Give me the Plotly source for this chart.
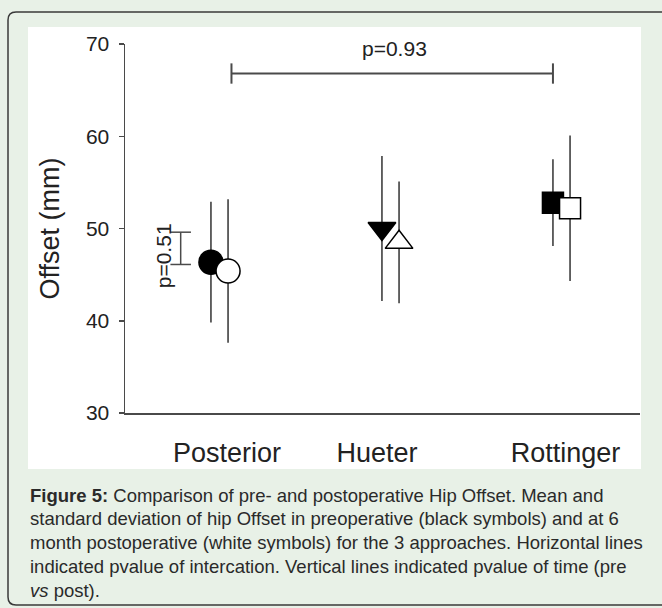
import plotly.graph_objects as go

# ---- data ----
approaches = ["Posterior", "Hueter", "Rottinger"]
pre_mean = [46.35, 50.0, 52.8]
pre_sd = [6.55, 7.86, 4.7]
post_mean = [45.4, 48.5, 52.2]
post_sd = [7.78, 6.6, 7.88]
y_ticks = [30, 40, 50, 60, 70]
p_interaction = "p=0.93"
p_interaction_y = 66.8
p_time = "p=0.51"
p_time_range = [46.1, 49.6]

caption_lines = [
    "<b>Figure 5:</b> Comparison of pre- and postoperative Hip Offset. Mean and",
    "standard deviation of hip Offset in preoperative (black symbols) and at 6",
    "month postoperative (white symbols) for the 3 approaches. Horizontal lines",
    "indicated pvalue of intercation. Vertical lines indicated pvalue of time (pre",
    "<i>vs</i> post).",
]

# ---- layout geometry (pixels) ----
W, H = 662, 608
L, R, T, B = 125, 22, 44, 195
PW, PH = W - L - R, H - T - B


def px_x(px):
    return (px - L) / PW


def px_y(py):
    return (H - B - py) / PH


FONT = "Liberation Sans, Arial, sans-serif"
INK = "#222222"
LINE = "#4a4a4a"
GREEN = "#e8f1e7"

xc = [1, 2, 3]
off = 0.05
x_pre = [v - off for v in xc]
x_post = [v + off for v in xc]

fig = go.Figure()

pre_symbols = ["circle", "triangle-down", "square"]
post_symbols = ["circle", "triangle-up", "square"]
sizes = [24, 24, 21]

for i in range(3):
    fig.add_trace(go.Scatter(
        x=[x_pre[i]], y=[pre_mean[i]], mode="markers",
        marker=dict(symbol=pre_symbols[i], size=sizes[i], color="black",
                    line=dict(color="black", width=1.5)),
        error_y=dict(type="data", array=[pre_sd[i]], symmetric=True,
                     width=0, thickness=1.5, color="#333333"),
        showlegend=False, hoverinfo="skip"))
for i in range(3):
    fig.add_trace(go.Scatter(
        x=[x_post[i]], y=[post_mean[i]], mode="markers",
        marker=dict(symbol=post_symbols[i], size=sizes[i], color="white",
                    line=dict(color="black", width=1.5)),
        error_y=dict(type="data", array=[post_sd[i]], symmetric=True,
                     width=0, thickness=1.5, color="#333333"),
        showlegend=False, hoverinfo="skip"))

# interaction bracket (horizontal)
bx0, bx1 = 1.07, 2.95
fig.add_trace(go.Scatter(
    x=[bx0, bx1], y=[p_interaction_y, p_interaction_y], mode="lines",
    line=dict(color=LINE, width=2), showlegend=False, hoverinfo="skip"))
for bx in (bx0, bx1):
    fig.add_trace(go.Scatter(
        x=[bx, bx], y=[p_interaction_y - 1.1, p_interaction_y + 1.1], mode="lines",
        line=dict(color=LINE, width=2), showlegend=False, hoverinfo="skip"))

# time bracket (vertical)
tx = 0.773
fig.add_trace(go.Scatter(
    x=[tx, tx], y=p_time_range, mode="lines",
    line=dict(color=LINE, width=1.5), showlegend=False, hoverinfo="skip"))
for ty in p_time_range:
    fig.add_trace(go.Scatter(
        x=[tx - 0.06, tx + 0.06], y=[ty, ty], mode="lines",
        line=dict(color=LINE, width=1.5), showlegend=False, hoverinfo="skip"))

annotations = [
    dict(x=2.026, y=69.5, xref="x", yref="y", text=p_interaction, showarrow=False,
         font=dict(family=FONT, size=21, color=INK), xanchor="center", yanchor="middle"),
    dict(x=0.67, y=47.0, xref="x", yref="y", text=p_time, showarrow=False, textangle=-90,
         font=dict(family=FONT, size=21, color=INK), xanchor="center", yanchor="middle"),
    dict(x=px_x(49), y=0.5, xref="paper", yref="paper", text="Offset (mm)",
         showarrow=False, textangle=-90,
         font=dict(family=FONT, size=27, color=INK), xanchor="center", yanchor="middle"),
]

baselines = [502, 525, 549, 573, 597]
for line, bl in zip(caption_lines, baselines):
    annotations.append(dict(
        x=px_x(28), y=px_y(bl - 6.5), xref="paper", yref="paper", text=line,
        showarrow=False, xanchor="left", yanchor="middle", align="left",
        font=dict(family=FONT, size=18.5, color="#2a2a2a")))

# background panels
r = 8
x0o, x1o = px_x(8), px_x(700)
yt, yb = px_y(12), px_y(605)
rx, ry = r / PW, r / PH
border_path = (f"M {x1o},{yt} L {x0o + rx},{yt} Q {x0o},{yt} {x0o},{yt - ry} "
               f"L {x0o},{yb + ry} Q {x0o},{yb} {x0o + rx},{yb} L {x1o},{yb}")

shapes = [
    dict(type="rect", xref="paper", yref="paper",
         x0=px_x(28), x1=px_x(641), y0=px_y(469), y1=px_y(27),
         fillcolor="white", line=dict(width=0), layer="below"),
    dict(type="path", xref="paper", yref="paper", path=border_path,
         line=dict(color="#3a3a3a", width=1.5), layer="below"),
]

x_lo = 1 - (219.5 - L) / 171
x_hi = 1 + (L + PW - 219.5) / 171

fig.update_layout(
    width=W, height=H,
    margin=dict(l=L, r=R, t=T, b=B, pad=0),
    paper_bgcolor=GREEN, plot_bgcolor="rgba(0,0,0,0)",
    shapes=shapes, annotations=annotations,
    xaxis=dict(range=[x_lo, x_hi], tickvals=[1.044, 1.921, 3.023], ticktext=approaches,
               showgrid=False, zeroline=False, showline=True, linecolor=LINE, linewidth=2,
               ticks="", ticklabelstandoff=15,
               tickfont=dict(family=FONT, size=27, color=INK)),
    yaxis=dict(range=[30, 70], tickvals=y_ticks, showgrid=False, zeroline=False,
               showline=True, linecolor=LINE, linewidth=1.5,
               ticks="outside", ticklen=5, tickwidth=1.5, tickcolor=LINE,
               ticklabelstandoff=5,
               tickfont=dict(family=FONT, size=21, color=INK)),
)

fig.write_html("out.html", config={"displayModeBar": False, "staticPlot": True},
               post_script="document.body.style.margin='0';")
